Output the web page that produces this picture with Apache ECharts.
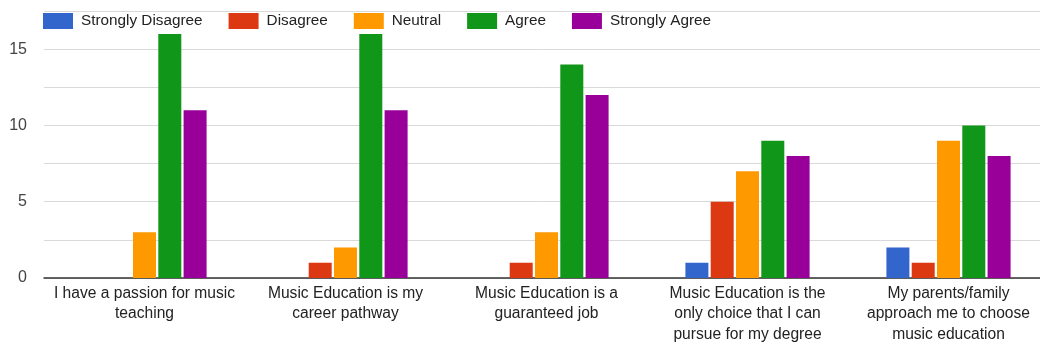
<!DOCTYPE html>
<html>
<head>
<meta charset="utf-8">
<script src="https://cdn.jsdelivr.net/npm/echarts@6/dist/echarts.min.js"></script>
<style>html,body{margin:0;padding:0;background:#fff}#c{width:1040px;height:349px}</style>
</head>
<body>
<div id="c"></div>
<script>
const categories = [
  "I have a passion for music\nteaching",
  "Music Education is my\ncareer pathway",
  "Music Education is a\nguaranteed job",
  "Music Education is the\nonly choice that I can\npursue for my degree",
  "My parents/family\napproach me to choose\nmusic education"
];
const seriesNames = ["Strongly Disagree", "Disagree", "Neutral", "Agree", "Strongly Agree"];
const stronglyDisagree = [0, 0, 0, 1, 2];
const disagree = [0, 1, 1, 5, 1];
const neutral = [3, 2, 3, 7, 9];
const agree = [16, 16, 14, 9, 10];
const stronglyAgree = [11, 11, 12, 8, 8];
const yTicks = [0, 5, 10, 15];
const colors = ["#3366cc", "#dc3912", "#ff9900", "#109618", "#990099"];

const values = [stronglyDisagree, disagree, neutral, agree, stronglyAgree];
const font = "'Liberation Sans', Arial, sans-serif";
const chart = echarts.init(document.getElementById('c'), null, {renderer: 'canvas'});
chart.setOption({
  animation: false,
  color: colors,
  textStyle: {fontFamily: font},
  legend: {
    left: 43, top: 13, padding: 0,
    itemWidth: 30, itemHeight: 16, itemGap: 26,
    icon: 'rect',
    textStyle: {fontSize: 15.3, color: '#222', fontFamily: font, padding: [4, 0, 0, 3]},
    data: seriesNames
  },
  grid: {left: 44, top: 11, height: 267, width: 1005, outerBoundsMode: 'none', containLabel: false},
  xAxis: {
    type: 'category',
    data: categories,
    axisTick: {show: false},
    axisLine: {lineStyle: {color: '#333', width: 1.5}},
    axisLabel: {interval: 0, fontSize: 15.6, color: '#222', lineHeight: 20.5, margin: 5, fontFamily: font}
  },
  yAxis: {
    type: 'value',
    min: 0, max: 17.5, interval: 2.5,
    axisLine: {show: false},
    axisTick: {show: false},
    splitLine: {lineStyle: {color: '#d9d9d9', width: 1}},
    axisLabel: {
      fontSize: 16, color: '#444', margin: 17, fontFamily: font,
      formatter: v => yTicks.includes(v) ? String(v) : ''
    }
  },
  series: seriesNames.map((n, i) => ({
    name: n,
    type: 'bar',
    data: values[i],
    barWidth: 23,
    barGap: '10%'
  }))
});
</script>
</body>
</html>
